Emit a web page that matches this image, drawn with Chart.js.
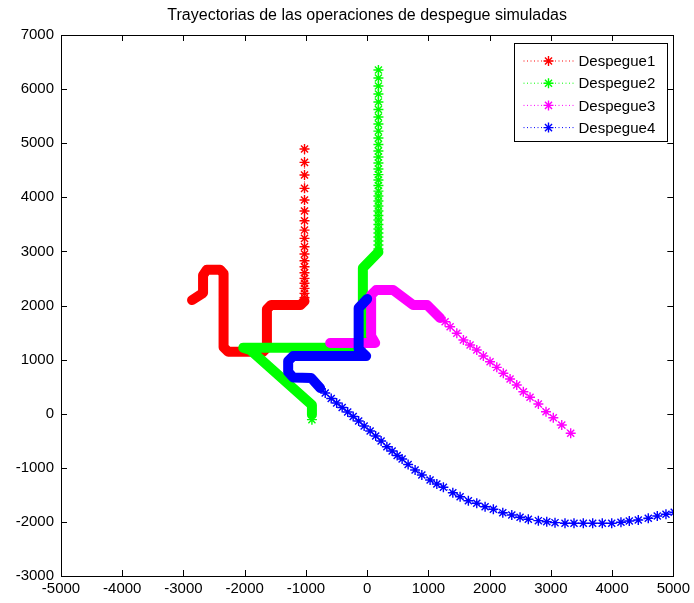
<!DOCTYPE html>
<html lang="es">
<head>
<meta charset="UTF-8" />
<title>Trayectorias de despegue</title>
<style>
  body { margin: 0; background: #fff; }
  #wrap { width: 694px; height: 603px; }
</style>
</head>
<body>
<div id="wrap"><canvas id="tray" width="694" height="603"></canvas></div>
<script src="https://cdn.jsdelivr.net/npm/chart.js@4"></script>
<script>
// Ejes
const chartTitle = 'Trayectorias de las operaciones de despegue simuladas';
const xTicks = [-5000, -4000, -3000, -2000, -1000, 0, 1000, 2000, 3000, 4000, 5000];
const yTicks = [-3000, -2000, -1000, 0, 1000, 2000, 3000, 4000, 5000, 6000, 7000];
const seriesNames = ['Despegue1', 'Despegue2', 'Despegue3', 'Despegue4'];
const seriesColors = ['#ff0000', '#00ff00', '#ff00ff', '#0000ff'];

// Despegue1: tramo denso (band) y luego asteriscos sueltos
const d1BandX = [-2860, -2680, -2680, -2620, -2400, -2345, -2345, -2270, -1700, -1637, -1637, -1570, -1090, -1023];
const d1BandY = [2100, 2230, 2560, 2660, 2660, 2590, 1230, 1146, 1146, 1220, 1930, 2009, 2009, 2080];
const d1TailX = [-1023, -1023, -1023, -1023, -1023, -1023, -1023, -1023, -1023, -1023, -1023, -1023, -1023, -1023, -1023, -1023, -1023, -1023, -1023];
const d1TailY = [2143, 2225, 2317, 2410, 2502, 2606, 2717, 2827, 2951, 3086, 3241, 3394, 3567, 3746, 3949, 4165, 4411, 4646, 4892];

// Despegue2
const d2HeadX = [-902];
const d2HeadY = [-110];
const d2BandX = [-902, -902, -1909, -2024, -114, -70, -70, 184];
const d2BandY = [-20, 161, 1177, 1220, 1220, 1300, 2693, 2988];
const d2TailX = [184, 184, 184, 184, 184, 184, 184, 184, 184, 184, 184, 184, 184, 184, 184, 184, 184, 184, 184, 184, 184, 184, 184, 184, 184, 184, 184, 184, 184, 184, 184, 184];
const d2TailY = [3044, 3118, 3192, 3266, 3340, 3414, 3497, 3580, 3663, 3746, 3838, 3931, 4023, 4115, 4217, 4319, 4420, 4522, 4633, 4744, 4855, 4975, 5095, 5224, 5354, 5483, 5622, 5761, 5909, 6056, 6204, 6352];

// Despegue3
const d3BandX = [-604, 131, 65, 65, 147, 424, 751, 979, 1191];
const d3BandY = [1307, 1307, 1436, 2194, 2286, 2286, 2009, 2009, 1769];
const d3TailX = [1273, 1355, 1464, 1572, 1681, 1790, 1898, 2007, 2117, 2224, 2334, 2443, 2551, 2660, 2796, 2921, 3040, 3178, 3324];
const d3TailY = [1700, 1608, 1486, 1362, 1270, 1177, 1066, 961, 857, 747, 641, 530, 407, 303, 179, 37, -74, -209, -362];

// Despegue4
const d4BandX = [0, -139, -139, -16, -1208, -1290, -1290, -1208, -914, -767];
const d4BandY = [2120, 1953, 1196, 1066, 1066, 974, 771, 669, 660, 475];
const d4TailX = [-685, -587, -498, -408, -318, -228, -139, -49, 49, 139, 228, 322, 408, 490, 571, 669, 783, 893, 1028, 1138,
  1245, 1399, 1518, 1653, 1790, 1926, 2061, 2215, 2362, 2497, 2632, 2796, 2933, 3068, 3231, 3378, 3530, 3683, 3840, 3994,
  4145, 4281, 4428, 4591, 4738, 4880, 5015];
const d4TailY = [383, 281, 198, 115, 31, -52, -135, -227, -320, -412, -505, -610, -689, -772, -837, -939, -1040, -1133, -1225, -1300,
  -1360, -1460, -1534, -1608, -1656, -1719, -1767, -1830, -1872, -1915, -1951, -1977, -1996, -2014, -2025, -2025, -2025, -2025, -2025, -2025,
  -2007, -1983, -1964, -1933, -1891, -1859, -1822];

const tracks = [
  { head: [[], []], band: [d1BandX, d1BandY], tail: [d1TailX, d1TailY] },
  { head: [d2HeadX, d2HeadY], band: [d2BandX, d2BandY], tail: [d2TailX, d2TailY] },
  { head: [[], []], band: [d3BandX, d3BandY], tail: [d3TailX, d3TailY] },
  { head: [[], []], band: [d4BandX, d4BandY], tail: [d4TailX, d4TailY] }
];

const toPts = (xs, ys) => xs.map((x, i) => ({ x: x, y: ys[i] }));

const datasets = [];
tracks.forEach((t, i) => {
  const head = toPts(t.head[0], t.head[1]);
  const band = toPts(t.band[0], t.band[1]);
  const tail = toPts(t.tail[0], t.tail[1]);
  const all = head.concat(band, tail);
  const nHead = head.length, nBand = band.length;
  // trazo grueso donde los asteriscos se solapan
  datasets.push({
    label: seriesNames[i] + ' (tramo)',
    data: band,
    showLine: true,
    borderColor: seriesColors[i],
    borderWidth: 10,
    borderJoinStyle: 'round',
    borderCapStyle: 'round',
    pointRadius: 0,
    order: (4 - i) * 2
  });
  // linea punteada con asteriscos
  datasets.push({
    label: seriesNames[i],
    data: all,
    showLine: true,
    borderColor: seriesColors[i],
    borderWidth: 1,
    borderDash: [1, 2.5],
    pointStyle: 'star',
    pointRadius: ctx => (ctx.dataIndex >= nHead && ctx.dataIndex < nHead + nBand) ? 0 : 5,
    pointBorderColor: seriesColors[i],
    pointBorderWidth: 1.4,
    order: (4 - i) * 2 - 1
  });
});

const FONT = '"Liberation Sans", Arial, Helvetica, sans-serif';

// titulo, marco, marcas hacia dentro y leyenda estilo matlab
const matlabFrame = {
  id: 'matlabFrame',
  afterDraw(chart) {
    const { ctx, chartArea: a, scales } = chart;
    const tl = 6;
    ctx.save();
    ctx.fillStyle = '#000';
    ctx.font = '16px ' + FONT;
    ctx.textAlign = 'center';
    ctx.textBaseline = 'middle';
    ctx.fillText(chartTitle, (a.left + a.right) / 2, 16);
    ctx.textAlign = 'left';

    ctx.strokeStyle = '#000';
    ctx.lineWidth = 1;
    ctx.beginPath();
    xTicks.forEach(v => {
      const px = Math.round(scales.x.getPixelForValue(v)) + 0.5;
      ctx.moveTo(px, a.bottom); ctx.lineTo(px, a.bottom - tl);
      ctx.moveTo(px, a.top); ctx.lineTo(px, a.top + tl);
    });
    yTicks.forEach(v => {
      const py = Math.round(scales.y.getPixelForValue(v)) + 0.5;
      ctx.moveTo(a.left, py); ctx.lineTo(a.left + tl, py);
      ctx.moveTo(a.right, py); ctx.lineTo(a.right - tl, py);
    });
    ctx.stroke();
    ctx.strokeRect(Math.round(a.left) + 0.5, Math.round(a.top) + 0.5,
      Math.round(a.right - a.left), Math.round(a.bottom - a.top));

    // leyenda
    const bx = 514.5, by = 43.5, bw = 153, bh = 98;
    ctx.fillStyle = '#fff';
    ctx.fillRect(bx, by, bw, bh);
    ctx.strokeRect(bx, by, bw, bh);
    ctx.font = '15px ' + FONT;
    seriesNames.forEach((name, i) => {
      const y = by + 17.5 + i * 22.2;
      ctx.strokeStyle = seriesColors[i];
      ctx.lineWidth = 1;
      ctx.setLineDash([1, 2.5]);
      ctx.beginPath();
      ctx.moveTo(bx + 9, y); ctx.lineTo(bx + 61, y);
      ctx.stroke();
      ctx.setLineDash([]);
      ctx.lineWidth = 1.4;
      const cx = bx + 34, r = 5, d = r * 0.7071;
      ctx.beginPath();
      ctx.moveTo(cx - r, y); ctx.lineTo(cx + r, y);
      ctx.moveTo(cx, y - r); ctx.lineTo(cx, y + r);
      ctx.moveTo(cx - d, y - d); ctx.lineTo(cx + d, y + d);
      ctx.moveTo(cx - d, y + d); ctx.lineTo(cx + d, y - d);
      ctx.stroke();
      ctx.fillStyle = '#000';
      ctx.fillText(name, bx + 64, y + 1);
    });
    ctx.restore();
  }
};

new Chart(document.getElementById('tray'), {
  type: 'scatter',
  data: { datasets: datasets },
  options: {
    responsive: false,
    animation: false,
    layout: { padding: { left: 0, right: 20, top: 35, bottom: 0 } },
    plugins: {
      legend: { display: false },
      tooltip: { enabled: false },
      title: { display: false }
    },
    scales: {
      x: {
        type: 'linear',
        min: -5000, max: 5000,
        afterBuildTicks: s => { s.ticks = xTicks.map(v => ({ value: v })); },
        afterFit: s => { s.height = 27; },
        grid: { display: false, drawTicks: false },
        border: { display: false },
        ticks: { color: '#000', padding: 4, maxRotation: 0, autoSkip: false,
          callback: v => String(v), font: { family: FONT, size: 15 } }
      },
      y: {
        type: 'linear',
        min: -3000, max: 7000,
        afterBuildTicks: s => { s.ticks = yTicks.map(v => ({ value: v })); },
        afterFit: s => { s.width = 61; },
        grid: { display: false, drawTicks: false },
        border: { display: false },
        ticks: { color: '#000', padding: 7, autoSkip: false,
          callback: v => String(v), font: { family: FONT, size: 15 } }
      }
    }
  },
  plugins: [matlabFrame]
});
</script>
</body>
</html>
